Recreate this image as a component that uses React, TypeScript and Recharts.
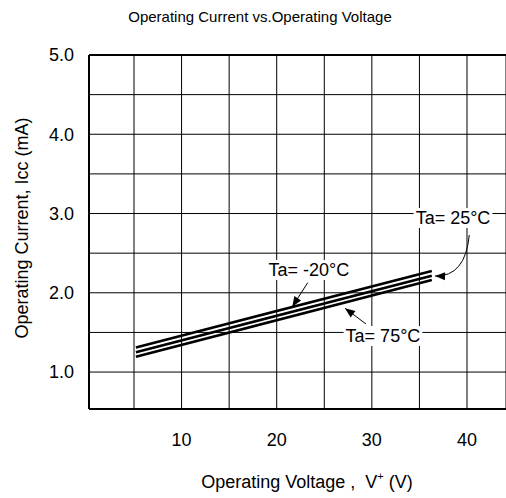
import React from 'react';
import {
  LineChart,
  Line,
  XAxis,
  YAxis,
  CartesianGrid,
  ReferenceLine,
  ReferenceDot,
  Label,
} from 'recharts';

const FONT = '"Liberation Sans", Arial, sans-serif';

// operating voltage (V) at the two ends of each curve
const voltage = [5.2, 36.3];
// operating current (mA) per ambient temperature
const iccMinus20 = [1.31, 2.275];
const icc25 = [1.25, 2.216];
const icc75 = [1.193, 2.162];

const xTicks = [5, 10, 15, 20, 25, 30, 35, 40];
const yTicks = [1.0, 1.5, 2.0, 2.5, 3.0, 3.5, 4.0, 4.5, 5.0];

const noteText = ['Ta= 25°C', 'Ta= -20°C', 'Ta= 75°C'];
const noteX = [38.53, 23.39, 31.17];
const noteY = [2.944, 2.288, 1.455];

// arrows: from label towards curve
const arrowFrom = [
  { x: 40.24, y: 2.729 },
  { x: 23.26, y: 2.128 },
  { x: 29.38, y: 1.607 },
];
const arrowTo = [
  { x: 36.64, y: 2.212 },
  { x: 21.64, y: 1.825 },
  { x: 27.18, y: 1.805 },
];
const arrowCurved = [true, false, false];

const data = voltage.map((v, i) => ({
  v,
  m20: iccMinus20[i],
  p25: icc25[i],
  p75: icc75[i],
}));

const arrowShape = (curved: boolean) => (p: any) => {
  const { x1, y1, x2, y2 } = p;
  let d: string;
  let ang: number;
  if (curved) {
    const cx = x1 - 4;
    const cy = y2 + 1;
    d = `M${x1},${y1} Q${cx},${cy} ${x2},${y2}`;
    ang = Math.atan2(y2 - cy, x2 - cx);
  } else {
    d = `M${x1},${y1} L${x2},${y2}`;
    ang = Math.atan2(y2 - y1, x2 - x1);
  }
  const L = 10;
  const W = 4;
  const bx = x2 - L * Math.cos(ang);
  const by = y2 - L * Math.sin(ang);
  const nx = -Math.sin(ang);
  const ny = Math.cos(ang);
  const pts = `${x2},${y2} ${bx + W * nx},${by + W * ny} ${bx - W * nx},${by - W * ny}`;
  return (
    <g>
      <path d={d} stroke="#000" strokeWidth={1} fill="none" />
      <polygon points={pts} fill="#000" />
    </g>
  );
};

const noteShape = (text: string) => (p: any) => {
  const { cx, cy } = p;
  const w = text.length * 9.6 + 2;
  return (
    <g>
      <rect x={cx - w / 2} y={cy - 10} width={w} height={20} fill="#fff" />
      <text
        x={cx}
        y={cy}
        textAnchor="middle"
        dominantBaseline="central"
        fontSize={18}
        fontFamily={FONT}
        fill="#000"
      >
        {text}
      </text>
    </g>
  );
};

const XTitle = () => (
  <text x={307} y={488} textAnchor="middle" fontSize={18} fontFamily={FONT} fill="#000" style={{ whiteSpace: 'pre' }}>
    {'Operating Voltage ,  V'}
    <tspan fontSize={11} dy={-8}>+</tspan>
    <tspan dy={8}>{' (V)'}</tspan>
  </text>
);

const YTitle = () => (
  <text
    x={22}
    y={228}
    transform="rotate(-90, 22, 228)"
    textAnchor="middle"
    dominantBaseline="central"
    fontSize={18}
    fontFamily={FONT}
    fill="#000"
  >
    Operating Current, Icc (mA)
  </text>
);

export default function App() {
  return (
    <div style={{ position: 'absolute', left: 0, top: 0, width: 506, height: 498, background: '#fff', fontFamily: FONT }}>
      <div
        style={{
          position: 'absolute',
          top: 8,
          left: 7,
          width: 506,
          textAlign: 'center',
          fontSize: 15,
          color: '#000',
        }}
      >
        Operating Current vs.Operating Voltage
      </div>
      <LineChart width={506} height={498} data={data} margin={{ top: 55, right: 0, left: 0, bottom: 0 }}>
        <CartesianGrid stroke="#000" strokeWidth={1} />
        <XAxis
          type="number"
          dataKey="v"
          domain={[0.27, 44.1]}
          ticks={xTicks}
          interval={0}
          allowDataOverflow
          height={89}
          tickLine={false}
          tickMargin={18}
          axisLine={{ stroke: '#000', strokeWidth: 2 }}
          tick={{ fill: '#000', fontSize: 18, fontFamily: FONT }}
          tickFormatter={(v: number) => (v % 10 === 0 ? String(v) : '')}
        >
          <Label content={XTitle} />
        </XAxis>
        <YAxis
          type="number"
          domain={[0.534, 5]}
          ticks={yTicks}
          interval={0}
          allowDataOverflow
          width={89}
          tickLine={false}
          tickMargin={9}
          axisLine={{ stroke: '#000', strokeWidth: 2 }}
          tick={{ fill: '#000', fontSize: 18, fontFamily: FONT }}
          tickFormatter={(v: number) => (v % 1 === 0 ? v.toFixed(1) : '')}
        >
          <Label content={YTitle} />
        </YAxis>
        <ReferenceLine y={5} stroke="#000" strokeWidth={2} />
        <Line type="linear" dataKey="m20" stroke="#000" strokeWidth={2.6} dot={false} isAnimationActive={false} />
        <Line type="linear" dataKey="p25" stroke="#000" strokeWidth={2.6} dot={false} isAnimationActive={false} />
        <Line type="linear" dataKey="p75" stroke="#000" strokeWidth={2.6} dot={false} isAnimationActive={false} />
        {noteText.map((t, i) => (
          <ReferenceDot key={t} x={noteX[i]} y={noteY[i]} r={0} shape={noteShape(t)} />
        ))}
        {arrowFrom.map((f, i) => (
          <ReferenceLine
            key={`arrow-${i}`}
            segment={[f, arrowTo[i]]}
            shape={arrowShape(arrowCurved[i])}
          />
        ))}
      </LineChart>
    </div>
  );
}
